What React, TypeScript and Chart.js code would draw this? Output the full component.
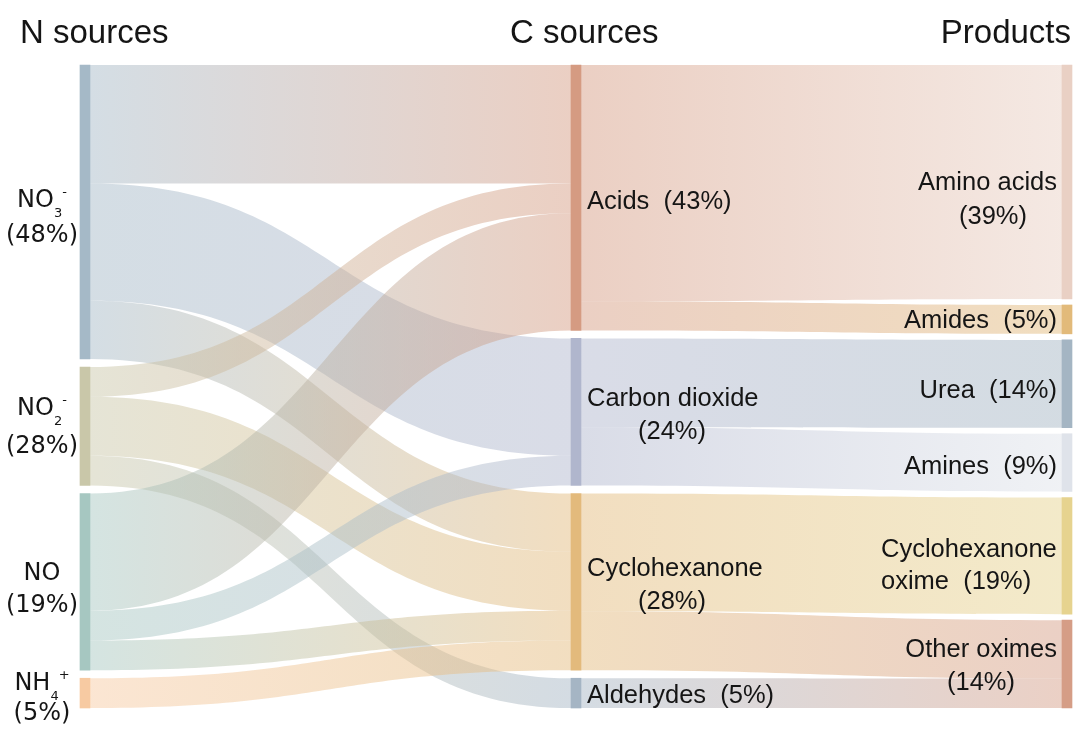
import React, { useEffect, useRef } from 'react';
import { Chart, registerables } from 'chart.js';

Chart.register(...registerables);

// ---------------- data ----------------
const columnTitles = ['N sources', 'C sources', 'Products'];

const nSourceKeys = ['NO3', 'NO2', 'NO', 'NH4'];
const cSourceKeys = ['Acids', 'CO2', 'Cyc', 'Ald'];
const productKeys = ['Amino', 'Amides', 'Urea', 'Amines', 'CycOx', 'Other'];

// N source -> C source flows (% of total)
const nToCFrom = ['NO3', 'NO3', 'NO3', 'NO2', 'NO2', 'NO2', 'NO', 'NO', 'NO', 'NH4'];
const nToCTo = ['Acids', 'CO2', 'Cyc', 'Acids', 'Cyc', 'Ald', 'Acids', 'CO2', 'Cyc', 'Cyc'];
const nToCValue = [19.1, 18.9, 9.4, 4.8, 9.5, 4.8, 18.9, 4.8, 4.8, 4.8];

// C source -> product flows (% of total)
const cToPFrom = ['Acids', 'Acids', 'CO2', 'CO2', 'Cyc', 'Cyc', 'Ald'];
const cToPTo = ['Amino', 'Amides', 'Urea', 'Amines', 'CycOx', 'Other', 'Other'];
const cToPValue = [38.1, 4.7, 14.3, 9.4, 19.0, 9.5, 4.8];

const nSourceFormula = [
  ['NO', '3', '-'],
  ['NO', '2', '-'],
  ['NO', '', ''],
  ['NH', '4', '+'],
];
const nSourcePct = ['(48%)', '(28%)', '(19%)', '(5%)'];
const cSourceLines = [
  ['Acids  (43%)'],
  ['Carbon dioxide', '(24%)'],
  ['Cyclohexanone', '(28%)'],
  ['Aldehydes  (5%)'],
];
const productLines = [
  ['Amino acids', '(39%)'],
  ['Amides  (5%)'],
  ['Urea  (14%)'],
  ['Amines  (9%)'],
  ['Cyclohexanone', 'oxime  (19%)'],
  ['Other oximes', '(14%)'],
];

const nSourceColors = ['#a5b9c7', '#c9c7a9', '#a6c7c1', '#f7caa2'];
const cSourceColors = ['#d59b82', '#b0b6cd', '#e3ba7c', '#a5b5c4'];
const productColors = ['#e9d0c4', '#e2ba7a', '#a4b5c3', '#dfe3ea', '#e6d38f', '#d59d86'];

// ---------------- layout helpers (value space) ----------------
const columnKeys = [nSourceKeys, cSourceKeys, productKeys];
const columnColors = [nSourceColors, cSourceColors, productColors];
const columnPad = [0.0125, 0.0125, 0.0094];

function sumBy(keys: string[], from: string[], vals: number[]) {
  return keys.map((k) => from.reduce((s, f, i) => (f === k ? s + vals[i] : s), 0));
}

const columnValues = [
  sumBy(nSourceKeys, nToCFrom, nToCValue),
  sumBy(cSourceKeys, nToCTo, nToCValue),
  sumBy(productKeys, cToPTo, cToPValue),
];

type NodeBox = { y0: number; y1: number; k: number };

function layoutColumn(values: number[], pad: number): NodeBox[] {
  const total = values.reduce((a, b) => a + b, 0);
  const k = (1 - pad * (values.length - 1)) / total;
  let y = 0;
  return values.map((v) => {
    const y0 = y;
    const y1 = y + v * k;
    y = y1 + pad;
    return { y0, y1, k };
  });
}

const columns = columnValues.map((vals, c) => layoutColumn(vals, columnPad[c]));

type LinkGeom = { c0: number; c1: number; i0: number; i1: number; s0: number; s1: number; t0: number; t1: number };

function buildLinks(from: string[], to: string[], vals: number[], c: number): LinkGeom[] {
  const srcCol = columns[c];
  const tgtCol = columns[c + 1];
  const srcOff = srcCol.map((n) => n.y0);
  const tgtOff = tgtCol.map((n) => n.y0);
  return vals.map((v, i) => {
    const i0 = columnKeys[c].indexOf(from[i]);
    const i1 = columnKeys[c + 1].indexOf(to[i]);
    const s0 = srcOff[i0];
    const s1 = s0 + v * srcCol[i0].k;
    srcOff[i0] = s1;
    const t0 = tgtOff[i1];
    const t1 = t0 + v * tgtCol[i1].k;
    tgtOff[i1] = t1;
    return { c0: c, c1: c + 1, i0, i1, s0, s1, t0, t1 };
  });
}

const links = [
  ...buildLinks(nToCFrom, nToCTo, nToCValue, 0),
  ...buildLinks(cToPFrom, cToPTo, cToPValue, 1),
];

const barData: { x: number; y: [number, number] }[] = [];
const barColors: string[] = [];
columns.forEach((col, c) =>
  col.forEach((n, i) => {
    barData.push({ x: c, y: [n.y0, n.y1] });
    barColors.push(columnColors[c][i]);
  })
);

function rgba(hex: string, a: number) {
  const n = parseInt(hex.slice(1), 16);
  return `rgba(${(n >> 16) & 255},${(n >> 8) & 255},${n & 255},${a})`;
}

// ---------------- label placement (style) ----------------
const TEXT = '#151515';
const LEFT_FONT = '"DejaVu Sans", sans-serif';
const MAIN_FONT = '"Liberation Sans", Arial, sans-serif';

const leftDy1 = [-4.6, -11.7, -1.5, -3];
const leftDy2 = [30.4, 26.3, 30.5, 27];

type LineSpec = { align: CanvasTextAlign; dx: number; dy: number };
const midSpecs: LineSpec[][] = [
  [{ align: 'left', dx: 11, dy: 11.5 }],
  [{ align: 'left', dx: 11, dy: -5.5 }, { align: 'center', dx: 96, dy: 27.5 }],
  [{ align: 'left', dx: 11, dy: -5.5 }, { align: 'center', dx: 96, dy: 27.5 }],
  [{ align: 'left', dx: 11, dy: 10 }],
];
const rightSpecs: LineSpec[][] = [
  [{ align: 'right', dx: -10, dy: 8.5 }, { align: 'center', dx: -74, dy: 42 }],
  [{ align: 'right', dx: -10, dy: 8.5 }],
  [{ align: 'right', dx: -10, dy: 14.5 }],
  [{ align: 'right', dx: -10, dy: 11 }],
  [{ align: 'left', dx: -186, dy: 1 }, { align: 'left', dx: -186, dy: 33 }],
  [{ align: 'right', dx: -10, dy: -7 }, { align: 'center', dx: -86, dy: 26 }],
];

const sankeyPlugin = {
  id: 'sankeyLinks',
  beforeDatasetsDraw(chart: any) {
    const { ctx } = chart;
    const xs = chart.scales.x;
    const ys = chart.scales.y;
    const half = 5;
    ctx.save();
    links.forEach((l) => {
      const x0 = xs.getPixelForValue(l.c0) + half;
      const x1 = xs.getPixelForValue(l.c1) - half;
      const s0 = ys.getPixelForValue(l.s0);
      const s1 = ys.getPixelForValue(l.s1);
      const t0 = ys.getPixelForValue(l.t0);
      const t1 = ys.getPixelForValue(l.t1);
      const xm = (x0 + x1) / 2;
      const g = ctx.createLinearGradient(x0, 0, x1, 0);
      g.addColorStop(0, rgba(columnColors[l.c0][l.i0], 0.48));
      g.addColorStop(1, rgba(columnColors[l.c1][l.i1], 0.48));
      ctx.beginPath();
      ctx.moveTo(x0, s0);
      ctx.bezierCurveTo(xm, s0, xm, t0, x1, t0);
      ctx.lineTo(x1, t1);
      ctx.bezierCurveTo(xm, t1, xm, s1, x0, s1);
      ctx.closePath();
      ctx.fillStyle = g;
      ctx.fill();
    });
    ctx.restore();
  },
  afterDatasetsDraw(chart: any) {
    const { ctx } = chart;
    const xs = chart.scales.x;
    const ys = chart.scales.y;
    ctx.save();
    ctx.fillStyle = TEXT;
    ctx.textBaseline = 'alphabetic';

    // column titles
    ctx.font = `33px ${MAIN_FONT}`;
    ctx.textAlign = 'left';
    ctx.fillText(columnTitles[0], 20, 43);
    ctx.fillText(columnTitles[1], 510, 43);
    ctx.textAlign = 'right';
    ctx.fillText(columnTitles[2], 1071, 43);

    // left (N sources) labels with sub/superscripts
    const cx = 42;
    columns[0].forEach((n, i) => {
      const yc = (ys.getPixelForValue(n.y0) + ys.getPixelForValue(n.y1)) / 2;
      const [main, sub, sup] = nSourceFormula[i];
      ctx.font = `24px ${LEFT_FONT}`;
      const wm = ctx.measureText(main).width;
      ctx.font = `13px ${LEFT_FONT}`;
      const ws = sub ? ctx.measureText(sub).width : 0;
      const wp = sup ? ctx.measureText(sup).width : 0;
      const start = cx - (wm + ws + wp) / 2;
      const by = yc + leftDy1[i];
      ctx.textAlign = 'left';
      ctx.font = `24px ${LEFT_FONT}`;
      ctx.fillText(main, start, by);
      ctx.font = `13px ${LEFT_FONT}`;
      if (sub) ctx.fillText(sub, start + wm, by + 10);
      if (sup) ctx.fillText(sup, start + wm + ws, by - 11);
      ctx.font = `24px ${LEFT_FONT}`;
      ctx.textAlign = 'center';
      ctx.fillText(nSourcePct[i], cx, yc + leftDy2[i]);
    });

    // middle and right labels
    ctx.font = `25.5px ${MAIN_FONT}`;
    const drawCol = (c: number, lines: string[][], specs: LineSpec[][]) => {
      const xc = xs.getPixelForValue(c);
      columns[c].forEach((n, i) => {
        const yc = (ys.getPixelForValue(n.y0) + ys.getPixelForValue(n.y1)) / 2;
        lines[i].forEach((t, j) => {
          const s = specs[i][j];
          ctx.textAlign = s.align;
          ctx.fillText(t, xc + s.dx, yc + s.dy);
        });
      });
    };
    drawCol(1, cSourceLines, midSpecs);
    drawCol(2, productLines, rightSpecs);
    ctx.restore();
  },
};

export default function App() {
  const ref = useRef<HTMLCanvasElement | null>(null);
  useEffect(() => {
    document.body.style.margin = '0';
    const canvas = ref.current;
    if (!canvas) return;
    const chart = new Chart(canvas, {
      type: 'bar',
      data: {
        datasets: [
          {
            data: barData as any,
            backgroundColor: barColors,
            borderWidth: 0,
            barThickness: 10,
            clip: false as any,
          },
        ],
      },
      options: {
        animation: false,
        responsive: false,
        devicePixelRatio: 1,
        layout: { padding: { left: 85, right: 13, top: 65, bottom: 34 } },
        scales: {
          x: { type: 'linear', min: 0, max: 2, offset: false, display: false },
          y: { type: 'linear', min: 0, max: 1, reverse: true, display: false },
        },
        plugins: { legend: { display: false }, tooltip: { enabled: false } },
      },
      plugins: [sankeyPlugin],
    });
    return () => chart.destroy();
  }, []);
  return (
    <div style={{ width: 1080, height: 742, background: '#fff' }}>
      <canvas ref={ref} width={1080} height={742} style={{ display: 'block' }} />
    </div>
  );
}
